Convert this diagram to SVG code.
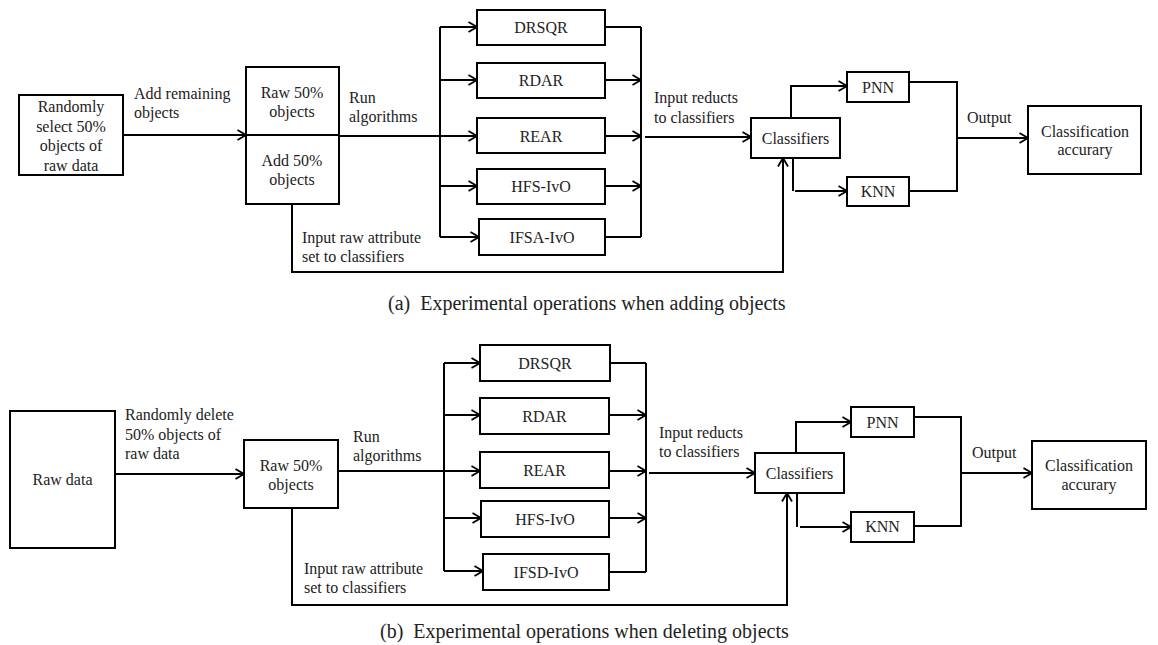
<svg xmlns="http://www.w3.org/2000/svg" width="1158" height="645" viewBox="0 0 1158 645">
<defs>
<marker id="arr" viewBox="0 0 10 12" refX="9.5" refY="6" markerWidth="10" markerHeight="12" markerUnits="userSpaceOnUse" orient="auto">
<path d="M1,1 L9.5,6 L1,11" fill="none" stroke="#000" stroke-width="1.8"/>
</marker>
</defs>
<style>
rect{fill:#fff;stroke:#000;stroke-width:2}
.c path,.c line,.c polyline{fill:none;stroke:#000;stroke-width:2}
.a{marker-end:url(#arr)}
text{font-family:"Liberation Serif","Times New Roman",serif;font-size:16px;fill:#222}
.m{text-anchor:middle}
.cap{font-size:20px}
</style>
<rect x="0" y="0" width="1158" height="645" style="fill:#fff;stroke:none"/>

<!-- Panel (a) connectors -->
<g id="connectors-a" class="c">
<line class="a" x1="123" y1="135" x2="246" y2="135"/>
<line x1="339" y1="136" x2="440" y2="136"/>
<line x1="440" y1="27" x2="440" y2="237"/>
<line class="a" x1="440" y1="27" x2="477" y2="27"/>
<line class="a" x1="440" y1="80" x2="477" y2="80"/>
<line class="a" x1="440" y1="136" x2="477" y2="136"/>
<line class="a" x1="440" y1="186" x2="477" y2="186"/>
<line class="a" x1="440" y1="237" x2="479" y2="237"/>
<line x1="605" y1="27" x2="641" y2="27"/>
<line x1="641" y1="27" x2="641" y2="237"/>
<line x1="605" y1="237" x2="641" y2="237"/>
<line class="a" x1="605" y1="80" x2="641" y2="80"/>
<line class="a" x1="605" y1="136" x2="641" y2="136"/>
<line class="a" x1="605" y1="186" x2="641" y2="186"/>
<line class="a" x1="645" y1="137" x2="751" y2="137"/>
<polyline class="a" points="791,118 791,86 847,86"/>
<polyline points="793,158 793,191"/>
<line class="a" x1="795" y1="191" x2="847" y2="191"/>
<polyline points="909,82 957,82 957,191 909,191"/>
<line class="a" x1="957" y1="138" x2="1028" y2="138"/>
<polyline class="a" points="292,204 292,272 783,272 783,158"/>
</g>

<g id="a-select"><rect x="19" y="95" width="104" height="80"/>
<text class="m" x="71" y="112">Randomly</text><text class="m" x="71" y="131.5">select 50%</text><text class="m" x="71" y="151">objects of</text><text class="m" x="71" y="170.5">raw data</text></g>
<g id="a-raw"><rect x="246" y="67" width="93" height="137"/>
<line x1="246" y1="135" x2="339" y2="135" style="stroke:#000;stroke-width:2"/>
<text class="m" x="292" y="98">Raw 50%</text><text class="m" x="292" y="117">objects</text>
<text class="m" x="292" y="166">Add 50%</text><text class="m" x="292" y="185">objects</text></g>
<g id="a-drsqr"><rect x="477" y="10" width="128" height="35"/><text class="m" x="541" y="33">DRSQR</text></g>
<g id="a-rdar"><rect x="477" y="63" width="128" height="35"/><text class="m" x="541" y="86">RDAR</text></g>
<g id="a-rear"><rect x="477" y="118" width="128" height="35"/><text class="m" x="541" y="141.5">REAR</text></g>
<g id="a-hfs"><rect x="477" y="169" width="128" height="35"/><text class="m" x="541" y="192">HFS-IvO</text></g>
<g id="a-ifsa"><rect x="479" y="219" width="126" height="36"/><text class="m" x="542" y="243">IFSA-IvO</text></g>
<g id="a-classifiers"><rect x="751" y="118" width="89" height="40"/><text class="m" x="795.5" y="144">Classifiers</text></g>
<g id="a-pnn"><rect x="847" y="72" width="62" height="30"/><text class="m" x="878" y="92.5">PNN</text></g>
<g id="a-knn"><rect x="847" y="177" width="62" height="29"/><text class="m" x="878" y="197">KNN</text></g>
<g id="a-acc"><rect x="1028" y="106" width="113" height="68"/><text class="m" x="1085" y="137">Classification</text><text class="m" x="1085" y="155">accurary</text></g>
<g id="a-labels">
<text x="134" y="99">Add remaining</text><text x="134" y="118">objects</text>
<text x="349" y="103">Run</text><text x="349" y="122">algorithms</text>
<text x="302" y="243">Input raw attribute</text><text x="302" y="262">set to classifiers</text>
<text x="654" y="103">Input reducts</text><text x="654" y="122.5">to classifiers</text>
<text x="967" y="123">Output</text>
<text class="cap" x="388" y="310">(a)<tspan dx="10">Experimental operations when adding objects</tspan></text>
</g>

<!-- Panel (b) connectors -->
<g id="connectors-b" class="c">
<line class="a" x1="115" y1="474" x2="244" y2="474"/>
<line x1="338" y1="471" x2="444" y2="471"/>
<line x1="444" y1="363" x2="444" y2="571"/>
<line class="a" x1="444" y1="363" x2="480" y2="363"/>
<line class="a" x1="444" y1="415" x2="480" y2="415"/>
<line class="a" x1="444" y1="471" x2="480" y2="471"/>
<line class="a" x1="444" y1="518" x2="481" y2="518"/>
<line class="a" x1="444" y1="571" x2="483" y2="571"/>
<line x1="610" y1="363" x2="646" y2="363"/>
<line x1="646" y1="363" x2="646" y2="572"/>
<line x1="609" y1="572" x2="646" y2="572"/>
<line class="a" x1="609" y1="415" x2="646" y2="415"/>
<line class="a" x1="609" y1="471" x2="646" y2="471"/>
<line class="a" x1="609" y1="518" x2="646" y2="518"/>
<line class="a" x1="649" y1="473" x2="755" y2="473"/>
<polyline class="a" points="796,453 796,422 851,422"/>
<polyline points="797,493 797,527"/>
<line class="a" x1="800" y1="527" x2="851" y2="527"/>
<polyline points="914,417 961,417 961,526 914,526"/>
<line class="a" x1="961" y1="473" x2="1032" y2="473"/>
<polyline class="a" points="292,508 292,605 787,605 787,493"/>
</g>

<g id="b-raw"><rect x="10" y="411" width="105" height="137"/><text class="m" x="62.5" y="485">Raw data</text></g>
<g id="b-raw50"><rect x="244" y="440" width="94" height="68"/><text class="m" x="291" y="471">Raw 50%</text><text class="m" x="291" y="490">objects</text></g>
<g id="b-drsqr"><rect x="480" y="345" width="130" height="36"/><text class="m" x="545" y="368.5">DRSQR</text></g>
<g id="b-rdar"><rect x="480" y="398" width="129" height="36"/><text class="m" x="544.5" y="421.5">RDAR</text></g>
<g id="b-rear"><rect x="480" y="452" width="129" height="36"/><text class="m" x="544.5" y="475.5">REAR</text></g>
<g id="b-hfs"><rect x="481" y="501" width="128" height="36"/><text class="m" x="545" y="524.5">HFS-IvO</text></g>
<g id="b-ifsd"><rect x="483" y="554" width="126" height="36"/><text class="m" x="546" y="577.5">IFSD-IvO</text></g>
<g id="b-classifiers"><rect x="755" y="453" width="89" height="40"/><text class="m" x="799.5" y="478.5">Classifiers</text></g>
<g id="b-pnn"><rect x="851" y="407" width="63" height="30"/><text class="m" x="882.5" y="427.5">PNN</text></g>
<g id="b-knn"><rect x="851" y="512" width="63" height="30"/><text class="m" x="882.5" y="532">KNN</text></g>
<g id="b-acc"><rect x="1032" y="441" width="114" height="68"/><text class="m" x="1089" y="471">Classification</text><text class="m" x="1089" y="490">accurary</text></g>
<g id="b-labels">
<text x="125" y="420">Randomly delete</text><text x="125" y="440">50% objects of</text><text x="125" y="459">raw data</text>
<text x="353" y="442">Run</text><text x="353" y="461">algorithms</text>
<text x="304" y="574">Input raw attribute</text><text x="304" y="593">set to classifiers</text>
<text x="659" y="438">Input reducts</text><text x="659" y="457">to classifiers</text>
<text x="972" y="458">Output</text>
<text class="cap" x="380" y="638">(b)<tspan dx="10">Experimental operations when deleting objects</tspan></text>
</g>
</svg>
